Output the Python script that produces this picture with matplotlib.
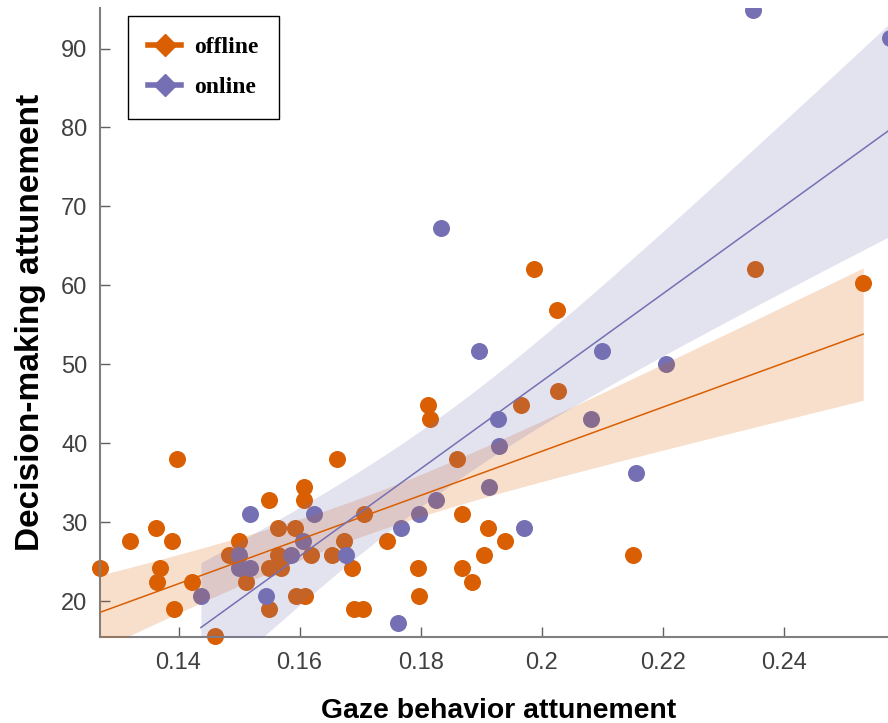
import numpy as np
import matplotlib
matplotlib.use('Agg')
import matplotlib.pyplot as plt
from matplotlib.lines import Line2D

# offline group: gaze attunement (x) and decision-making attunement (y, % of 58 trials)
offline_x = [0.1270, 0.1320, 0.1363, 0.1369, 0.1365, 0.1390, 0.1392, 0.1397, 0.1423, 0.1460,
             0.1483, 0.1500, 0.1511, 0.1550, 0.1550, 0.1550, 0.1564, 0.1564, 0.1569, 0.1593,
             0.1594, 0.1609, 0.1608, 0.1608, 0.1619, 0.1653, 0.1661, 0.1674, 0.1686, 0.1690,
             0.1704, 0.1707, 0.1744, 0.1796, 0.1798, 0.1812, 0.1816, 0.1860, 0.1869, 0.1868,
             0.1884, 0.1905, 0.1911, 0.1940, 0.1966, 0.1988, 0.2026, 0.2027, 0.2151, 0.2352,
             0.2531]
offline_k = [14, 16, 17, 14, 13, 16, 11, 22, 13, 9,
             15, 16, 13, 19, 14, 11, 17, 15, 14, 17,
             12, 12, 20, 19, 15, 15, 22, 16, 14, 11,
             11, 18, 16, 14, 12, 26, 25, 22, 18, 14,
             13, 15, 17, 16, 26, 36, 33, 27, 15, 36,
             35]

# online group
online_x = [0.1437, 0.1500, 0.1500, 0.1518, 0.1518, 0.1545, 0.1586, 0.1605, 0.1624, 0.1677,
            0.1763, 0.1767, 0.1797, 0.1825, 0.1913, 0.1929, 0.1928, 0.1971, 0.1834, 0.1897,
            0.2099, 0.2082, 0.2205, 0.2156, 0.2349, 0.2575]
online_k = [12, 15, 14, 14, 18, 12, 15, 16, 18, 15,
            10, 17, 18, 19, 20, 23, 25, 17, 39, 30,
            30, 25, 29, 21, 55, 53]

offline_y = [100.0 * k / 58 for k in offline_k]
online_y = [100.0 * k / 58 for k in online_k]

c_off = '#D95F02'
c_on = '#7570B3'


def fit_band(x, y, t):
    x = np.asarray(x)
    y = np.asarray(y)
    n = len(x)
    b1, b0 = np.polyfit(x, y, 1)
    xs = np.linspace(x.min(), x.max(), 200)
    yhat = b0 + b1 * xs
    s = np.sqrt(np.sum((y - (b0 + b1 * x)) ** 2) / (n - 2))
    se = s * np.sqrt(1.0 / n + (xs - x.mean()) ** 2 / np.sum((x - x.mean()) ** 2))
    return xs, yhat, yhat - t * se, yhat + t * se


fig = plt.figure(figsize=(8.88, 7.23), dpi=100)
ax = fig.add_axes([0.1126, 0.1194, 0.8874, 0.8691])

ax.scatter(offline_x, offline_y, s=150, color=c_off, linewidths=0, zorder=2, clip_on=False)
ax.scatter(online_x, online_y, s=150, color=c_on, linewidths=0, zorder=2, clip_on=True)

for xv, yv, c, t in [(offline_x, offline_y, c_off, 2.0096), (online_x, online_y, c_on, 2.0639)]:
    xs, yhat, lo, hi = fit_band(xv, yv, t)
    ax.fill_between(xs, lo, hi, color=c, alpha=0.2, linewidth=0, zorder=3)
    ax.plot(xs, yhat, color=c, lw=1.1, zorder=4)

ax.set_xlim(0.12703, 0.2572)
ax.set_ylim(15.48, 95.1)
ax.set_xticks([0.14, 0.16, 0.18, 0.2, 0.22, 0.24])
ax.set_xticklabels(['0.14', '0.16', '0.18', '0.2', '0.22', '0.24'])
ax.set_yticks([20, 30, 40, 50, 60, 70, 80, 90])

for sp in ['top', 'right']:
    ax.spines[sp].set_visible(False)
for sp in ['left', 'bottom']:
    ax.spines[sp].set_color('#808080')
    ax.spines[sp].set_linewidth(1.5)

ax.tick_params(direction='in', length=7, width=1, color='#606060',
               labelsize=17, labelcolor='#404040', labelfontfamily='Liberation Sans')
ax.tick_params(axis='x', pad=11)
ax.tick_params(axis='y', pad=9)

ax.set_xlabel('Gaze behavior attunement', fontsize=20.4, fontweight='bold',
              family='Liberation Sans')
ax.set_ylabel('Decision-making attunement', fontsize=24, fontweight='bold',
              family='Liberation Sans')
ax.xaxis.set_label_coords(0.506, -0.097)
ax.yaxis.set_label_coords(-0.069, 0.5)

handles = [Line2D([0], [0], color=c_off, lw=4, marker='D', markersize=11),
           Line2D([0], [0], color=c_on, lw=4, marker='D', markersize=11)]
leg = ax.legend(handles, ['offline', 'online'], loc='upper left',
                bbox_to_anchor=(0.0355, 0.987), borderaxespad=0, fancybox=False,
                framealpha=1, edgecolor='black', borderpad=0.85, labelspacing=0.8,
                handlelength=1.4, handletextpad=0.55,
                prop={'family': 'Liberation Serif', 'weight': 'bold', 'size': 17})
leg.get_frame().set_linewidth(1.0)

plt.savefig('out.png', dpi=100)
